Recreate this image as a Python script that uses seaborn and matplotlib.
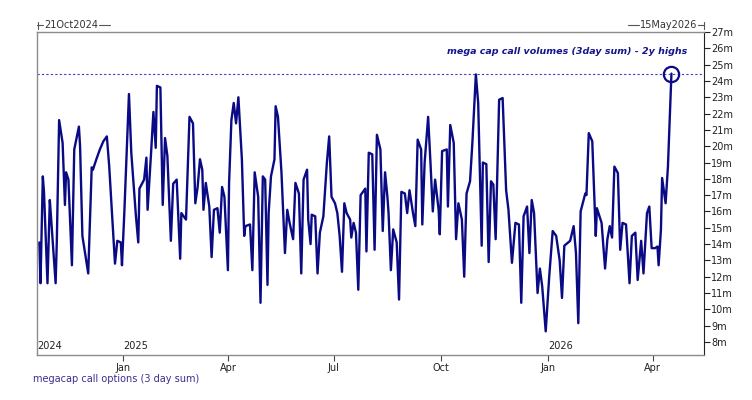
import pandas as pd
import matplotlib.pyplot as plt
import matplotlib.dates as mdates
from matplotlib.lines import Line2D
import seaborn as sns

# megacap call options, 3 day sum (millions)
dates = [
    '2024-10-21', '2024-10-22', '2024-10-24', '2024-10-25', '2024-10-28', '2024-10-30', '2024-10-31',
    '2024-11-04', '2024-11-05', '2024-11-07', '2024-11-10', '2024-11-12', '2024-11-13', '2024-11-15',
    '2024-11-18', '2024-11-20', '2024-11-24', '2024-11-25', '2024-11-27', '2024-12-02', '2024-12-05',
    '2024-12-06', '2024-12-09', '2024-12-12', '2024-12-15', '2024-12-18', '2024-12-20', '2024-12-25',
    '2024-12-27', '2024-12-30', '2024-12-31', '2025-01-02', '2025-01-06', '2025-01-08', '2025-01-12',
    '2025-01-14', '2025-01-15', '2025-01-19', '2025-01-21', '2025-01-22', '2025-01-25', '2025-01-27',
    '2025-01-29', '2025-01-30', '2025-02-02', '2025-02-04', '2025-02-06', '2025-02-08', '2025-02-11',
    '2025-02-13', '2025-02-16', '2025-02-19', '2025-02-20', '2025-02-24', '2025-02-27', '2025-03-02',
    '2025-03-04', '2025-03-06', '2025-03-08', '2025-03-10', '2025-03-11', '2025-03-13', '2025-03-16',
    '2025-03-18', '2025-03-20', '2025-03-23', '2025-03-25', '2025-03-27', '2025-03-29', '2025-04-01',
    '2025-04-02', '2025-04-04', '2025-04-06', '2025-04-08', '2025-04-10', '2025-04-13', '2025-04-15',
    '2025-04-16', '2025-04-20', '2025-04-22', '2025-04-24', '2025-04-27', '2025-04-29', '2025-05-01',
    '2025-05-03', '2025-05-05', '2025-05-06', '2025-05-08', '2025-05-11', '2025-05-12', '2025-05-14',
    '2025-05-17', '2025-05-20', '2025-05-22', '2025-05-24', '2025-05-27', '2025-05-29', '2025-06-01',
    '2025-06-03', '2025-06-05', '2025-06-08', '2025-06-09', '2025-06-11', '2025-06-12', '2025-06-15',
    '2025-06-17', '2025-06-19', '2025-06-22', '2025-06-25', '2025-06-27', '2025-06-29', '2025-07-02',
    '2025-07-04', '2025-07-06', '2025-07-08', '2025-07-10', '2025-07-12', '2025-07-15', '2025-07-16',
    '2025-07-18', '2025-07-20', '2025-07-22', '2025-07-24', '2025-07-28', '2025-07-29', '2025-07-31',
    '2025-08-03', '2025-08-05', '2025-08-07', '2025-08-10', '2025-08-12', '2025-08-14', '2025-08-16',
    '2025-08-17', '2025-08-19', '2025-08-21', '2025-08-24', '2025-08-26', '2025-08-28', '2025-08-31',
    '2025-09-02', '2025-09-04', '2025-09-07', '2025-09-09', '2025-09-11', '2025-09-14', '2025-09-15',
    '2025-09-17', '2025-09-20', '2025-09-22', '2025-09-24', '2025-09-26', '2025-09-29', '2025-09-30',
    '2025-10-02', '2025-10-06', '2025-10-07', '2025-10-09', '2025-10-12', '2025-10-14', '2025-10-16',
    '2025-10-19', '2025-10-21', '2025-10-23', '2025-10-26', '2025-10-28', '2025-10-31', '2025-11-02',
    '2025-11-05', '2025-11-06', '2025-11-09', '2025-11-11', '2025-11-13', '2025-11-15', '2025-11-17',
    '2025-11-18', '2025-11-20', '2025-11-23', '2025-11-26', '2025-11-28', '2025-12-01', '2025-12-04',
    '2025-12-07', '2025-12-09', '2025-12-11', '2025-12-14', '2025-12-16', '2025-12-18', '2025-12-20',
    '2025-12-23', '2025-12-25', '2025-12-27', '2025-12-30', '2026-01-02', '2026-01-05', '2026-01-08',
    '2026-01-11', '2026-01-13', '2026-01-15', '2026-01-20', '2026-01-23', '2026-01-25', '2026-01-27',
    '2026-01-29', '2026-02-02', '2026-02-03', '2026-02-05', '2026-02-08', '2026-02-11', '2026-02-12',
    '2026-02-16', '2026-02-19', '2026-02-21', '2026-02-23', '2026-02-25', '2026-02-27', '2026-03-02',
    '2026-03-04', '2026-03-06', '2026-03-09', '2026-03-12', '2026-03-14', '2026-03-17', '2026-03-19',
    '2026-03-22', '2026-03-24', '2026-03-27', '2026-03-29', '2026-03-31', '2026-04-03', '2026-04-05',
    '2026-04-06', '2026-04-08', '2026-04-09', '2026-04-12', '2026-04-14', '2026-04-17',
]
volumes = [
    14.1, 11.6, 18.15, 17.2, 11.6, 16.7, 15.7,
    11.6, 14.1, 21.6, 20.2, 16.4, 18.4, 17.95,
    12.7, 19.8, 21.2, 20.0, 14.5, 12.2, 18.7,
    18.55, 19.2, 19.8, 20.3, 20.6, 18.8, 12.8,
    14.2, 14.1, 12.7, 15.9, 23.2, 19.6, 15.7,
    14.1, 17.4, 17.95, 19.3, 16.1, 19.6, 22.1,
    19.9, 23.7, 23.6, 16.4, 20.5, 19.4, 14.2,
    17.7, 17.95, 13.1, 15.9, 15.5, 21.8, 21.4,
    16.5, 17.5, 19.2, 18.55, 16.1, 17.75, 16.3,
    13.2, 16.1, 16.2, 14.7, 17.5, 16.9, 12.4,
    17.75, 21.6, 22.65, 21.4, 23.0, 19.2, 14.5,
    15.1, 15.2, 12.4, 18.4, 16.9, 10.4, 18.15,
    17.95, 11.5, 15.9, 18.15, 19.2, 22.45, 21.8,
    18.4, 13.45, 16.1, 15.3, 14.3, 17.75, 17.1,
    12.2, 17.95, 18.56, 15.5, 14.0, 15.8, 15.7,
    12.2, 14.7, 15.7, 18.97, 20.6, 16.9, 16.5,
    15.9, 14.5, 12.3, 16.5, 15.9, 15.5, 14.4,
    15.3, 14.7, 11.2, 17.0, 17.4, 13.55, 19.6,
    19.5, 13.65, 20.7, 19.8, 14.8, 18.4, 16.9,
    15.9, 12.4, 14.9, 14.1, 10.6, 17.2, 17.1,
    15.9, 17.3, 15.9, 15.1, 20.4, 19.8, 15.2,
    19.0, 21.8, 19.0, 16.0, 17.95, 16.1, 14.6,
    19.7, 19.8, 16.3, 21.3, 20.2, 14.3, 16.5,
    15.5, 12.0, 17.1, 17.85, 20.2, 24.4, 22.65,
    13.9, 19.0, 18.9, 12.9, 17.85, 17.65, 14.3,
    17.2, 22.85, 22.95, 17.3, 16.1, 12.85, 15.3,
    15.2, 10.4, 15.7, 16.3, 13.45, 16.7, 15.9,
    11.0, 12.5, 11.4, 8.65, 12.0, 14.8, 14.5,
    13.0, 10.7, 13.9, 14.2, 15.1, 13.45, 9.15,
    16.0, 17.1, 17.0, 20.8, 20.3, 14.5, 16.2,
    15.3, 12.5, 14.3, 15.1, 14.4, 18.75, 18.35,
    13.65, 15.3, 15.2, 11.6, 14.5, 14.7, 11.8,
    14.2, 12.2, 15.9, 16.3, 13.75, 13.75, 13.85,
    12.7, 14.9, 18.05, 16.5, 18.75, 24.45,
]
month_ticks = ['2025-01-01', '2025-04-01', '2025-07-01', '2025-10-01',
               '2026-01-01', '2026-04-01']
month_labels = ['Jan', 'Apr', 'Jul', 'Oct', 'Jan', 'Apr']
year_marks = ['2024-10-19', '2025-01-01', '2026-01-01']
year_labels = ['2024', '2025', '2026']
y_ticks = list(range(8, 28))
high_level = 24.4

df = pd.DataFrame({'date': pd.to_datetime(dates), 'volume': volumes})

sns.set_style('white')
plt.rcParams['font.family'] = ['DejaVu Sans']

line_color = '#0a0a85'
frame_gray = '#8c8c8c'
W, H = 752, 400

fig = plt.figure(figsize=(7.52, 4.0), dpi=100)
ax = fig.add_axes([0.0492, 0.1125, 0.8870, 0.8075])

sns.lineplot(data=df, x='date', y='volume', ax=ax, color=line_color,
             linewidth=1.7, legend=False)

# 2y high marker
ax.axhline(high_level, color='#3c3cc0', linewidth=0.8, linestyle=(0, (2, 2)))
ax.plot(df['date'].iloc[-1], high_level, marker='o', markersize=11,
        markerfacecolor='none', markeredgecolor=line_color, markeredgewidth=1.6)

ax.set_xlim(pd.Timestamp('2024-10-19'), pd.Timestamp('2026-05-15'))
ax.set_ylim(7.2, 27.0)

# right hand axis
ax.yaxis.tick_right()
ax.set_yticks(y_ticks)
ax.set_yticklabels([f'{v}m' for v in y_ticks])
ax.tick_params(axis='y', direction='out', length=4, width=0.8, color='#222222',
               labelsize=7, pad=1, labelcolor='#222222', right=True, left=False)

ax.set_xticks(pd.to_datetime(month_ticks))
ax.set_xticklabels(month_labels)
ax.tick_params(axis='x', direction='out', length=4, width=0.8, color='#444444',
               labelsize=7, pad=2, labelcolor='#222222', bottom=True)
ax.set_xlabel('')
ax.set_ylabel('')

for name, sp in ax.spines.items():
    sp.set_visible(True)
    sp.set_linewidth(1.0)
    sp.set_color(frame_gray)
ax.spines['right'].set_color('#222222')
ax.spines['right'].set_linewidth(0.8)

# year labels inside the bottom of the plot
for d, lab in zip(year_marks, year_labels):
    ax.text(mdates.date2num(pd.Timestamp(d)), 0.012, lab,
            transform=ax.get_xaxis_transform(), ha='left', va='bottom',
            fontsize=7, color='#222222')

ax.text(0.975, 0.955, 'mega cap call volumes (3day sum) - 2y highs',
        transform=ax.transAxes, ha='right', va='top', fontsize=6.8,
        fontstyle='italic', fontweight='bold', color='#14148c')

# range labels above the frame, with little bracket lines
y_top = 1 - 25 / H
t_left = fig.text(44 / W, y_top, '21Oct2024', ha='left', va='center',
                  fontsize=7, color='#333333')
t_right = fig.text(697 / W, y_top, '15May2026', ha='right', va='center',
                   fontsize=7, color='#333333')
fig.canvas.draw()
bl = t_left.get_window_extent()
br = t_right.get_window_extent()
segs = [(37, 43), (bl.x1 + 1, bl.x1 + 12), (br.x0 - 12, br.x0 - 1), (698, 704)]
for x0, x1 in segs:
    fig.add_artist(Line2D([x0 / W, x1 / W], [y_top] * 2,
                          transform=fig.transFigure, color='#555555', lw=0.8))
for xv in [37.5, 703.5]:
    fig.add_artist(Line2D([xv / W] * 2, [y_top + 3.5 / H, y_top - 3.5 / H],
                          transform=fig.transFigure, color='#555555', lw=0.8))

fig.text(33 / W, 1 - 379 / H, 'megacap call options (3 day sum)',
         ha='left', va='center', fontsize=7, color='#3b2d8f')

fig.savefig('out.png', dpi=100)
